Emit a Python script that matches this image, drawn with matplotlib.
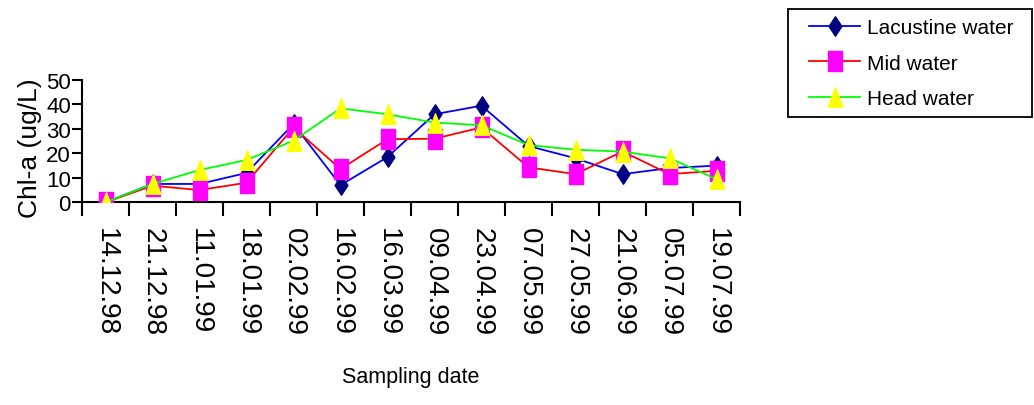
import matplotlib
matplotlib.use("Agg")
import matplotlib.pyplot as plt
import numpy as np
from matplotlib.path import Path
from matplotlib.patches import Rectangle

plt.rcParams['font.family'] = ['Liberation Sans', 'DejaVu Sans']

dates = ["14.12.98", "21.12.98", "11.01.99", "18.01.99", "02.02.99", "16.02.99",
         "16.03.99", "09.04.99", "23.04.99", "07.05.99", "27.05.99", "21.06.99",
         "05.07.99", "19.07.99"]
lacustrine = [0, 7.5, 7.5, 12, 32, 7, 18.5, 36, 39.5, 23, 18, 11.5, 14, 15]
mid = [0, 6.8, 5, 8, 30.6, 13.6, 25.8, 26, 30.6, 14.3, 11.5, 20.8, 11.5, 12.9]
head = [0, 7.5, 13.2, 17.3, 25.2, 38.4, 36, 32.6, 31.5, 23.4, 21.5, 20.7, 18, 9.5]

W, H = 1034, 406
fig = plt.figure(figsize=(W / 100, H / 100), dpi=100)
ax = fig.add_axes([82/W, 1 - 203.3/H, (740-82)/W, (203.3-81)/H])

x = np.arange(len(dates))
rect = Path([(-0.36, -0.5), (0.36, -0.5), (0.36, 0.5), (-0.36, 0.5), (-0.36, -0.5)],
            [Path.MOVETO, Path.LINETO, Path.LINETO, Path.LINETO, Path.CLOSEPOLY])
diamond = Path([(0, -0.5), (0.33, 0), (0, 0.5), (-0.33, 0), (0, -0.5)],
               [Path.MOVETO, Path.LINETO, Path.LINETO, Path.LINETO, Path.CLOSEPOLY])
tri = Path([(-0.38, -0.5), (0.38, -0.5), (0, 0.5), (-0.38, -0.5)],
           [Path.MOVETO, Path.LINETO, Path.LINETO, Path.CLOSEPOLY])

ax.plot(x, lacustrine, color='#0000ff', lw=1.3, marker=diamond, ms=14,
        mfc='#000080', mec='#000080', label='Lacustine water', zorder=3)
ax.plot(x, mid, color='#ff0000', lw=1.3, marker=rect, ms=14,
        mfc='#ff00ff', mec='#ff00ff', label='Mid water', zorder=4)
ax.plot(x, head, color='#00ff00', lw=1.3, marker=tri, ms=14,
        mfc='#ffff00', mec='#ffff00', label='Head water', zorder=5)

ax.set_xlim(-0.5, len(dates) - 0.5)
ax.set_ylim(0, 50)
ax.set_yticks([0, 10, 20, 30, 40, 50])
ax.set_xticks(x)
ax.set_xticklabels(dates, rotation=-90, fontsize=20)
ax.set_xticks(np.arange(len(dates) + 1) - 0.5, minor=True)
ax.tick_params(axis='x', which='major', length=0, pad=18)
ax.tick_params(axis='x', which='minor', length=10, width=1.5, direction='out')
ax.tick_params(axis='y', length=7, width=1.5, labelsize=16, pad=1)
for s in ['top', 'right']:
    ax.spines[s].set_visible(False)
for s in ['left', 'bottom']:
    ax.spines[s].set_linewidth(1.5)
ax.set_ylabel('Chl-a (ug/L)', fontsize=19)
ax.yaxis.set_label_coords(-0.061, 0.45)
ax.set_xlabel('Sampling date', fontsize=15.5, labelpad=22)

# legend box drawn in figure pixels, entries placed inside it
fig.patches.append(Rectangle((788/W, 1 - 118/H), (1032-788)/W, (118-10)/H,
                             transform=fig.transFigure, fill=False,
                             edgecolor='black', linewidth=1.3))
leg = fig.legend(loc='upper left', bbox_to_anchor=(809/W, 1 - 19/H),
                 fontsize=15, frameon=False,
                 handlelength=2.45, borderpad=0, labelspacing=0.8,
                 handletextpad=0.35, borderaxespad=0)

fig.savefig('out.png', dpi=100)
